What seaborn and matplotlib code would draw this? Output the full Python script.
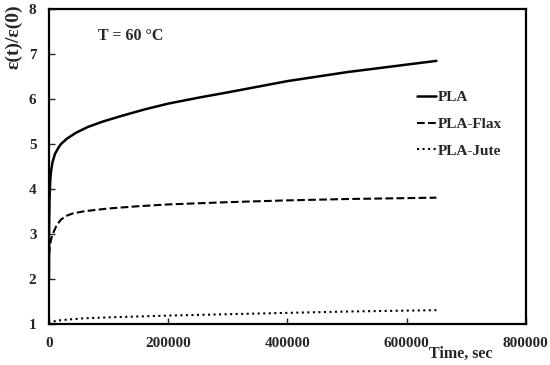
import matplotlib
matplotlib.use('Agg')
import matplotlib.pyplot as plt
import seaborn as sns
import pandas as pd
import numpy as np

# values
time_pla = [0, 300, 1000, 2000, 3500, 6000, 10000, 15000, 20000, 30000, 45000,
            65000, 90000, 120000, 160000, 200000, 250000, 300000, 400000,
            500000, 650000]
pla = [2.0, 3.2, 3.8, 4.15, 4.4, 4.6, 4.78, 4.9, 5.0, 5.12, 5.25,
       5.38, 5.5, 5.62, 5.77, 5.9, 6.03, 6.15, 6.4, 6.6, 6.85]

time_flax = [0, 300, 1500, 4000, 8000, 13000, 20000, 28000, 40000, 60000, 100000,
             150000, 200000, 300000, 400000, 500000, 650000]
flax = [2.3, 2.55, 2.75, 2.9, 3.05, 3.2, 3.32, 3.4, 3.46, 3.51, 3.57,
        3.62, 3.66, 3.71, 3.75, 3.78, 3.81]

time_jute = [0, 5000, 15000, 30000, 60000, 100000, 200000, 300000, 400000, 500000, 650000]
jute = [1.0, 1.05, 1.08, 1.1, 1.13, 1.15, 1.19, 1.22, 1.25, 1.28, 1.31]

series_names = ['PLA', 'PLA-Flax', 'PLA-Jute']
series_styles = ['-', '--', ':']

df = pd.concat([
    pd.DataFrame({'time': time_pla, 'ratio': pla, 'series': 'PLA'}),
    pd.DataFrame({'time': time_flax, 'ratio': flax, 'series': 'PLA-Flax'}),
    pd.DataFrame({'time': time_jute, 'ratio': jute, 'series': 'PLA-Jute'}),
])

sns.set_style('ticks')
plt.rcParams['font.family'] = ['Liberation Serif', 'DejaVu Serif']
plt.rcParams['font.weight'] = 'bold'

fig = plt.figure(figsize=(5.5, 3.65), dpi=100)
ax = fig.add_axes([0.089, 0.112, 0.867, 0.863])

for name, ls in zip(series_names, series_styles):
    sub = df[df['series'] == name]
    sns.lineplot(data=sub, x='time', y='ratio', ax=ax, color='black',
                 linestyle=ls, linewidth=1.8 if ls == '-' else 1.5, label=name)

ax.set_xlim(0, 800000)
ax.set_ylim(1, 8)
ax.set_xticks([0, 200000, 400000, 600000, 800000])
ax.set_xticklabels(['0', '200000', '400000', '600000', '800000'])
ax.set_yticks(range(1, 9))
ax.tick_params(direction='in', length=4, width=1, labelsize=11, pad=9)
for lab in ax.get_xticklabels() + ax.get_yticklabels():
    lab.set_fontweight('bold')
for sp in ax.spines.values():
    sp.set_visible(True)
    sp.set_linewidth(1.6)
    sp.set_color('black')

ax.set_xlabel('')
ax.set_ylabel('')
fig.text(0.026, 0.899, 'ε(t)/ε(0)', rotation=90, ha='center', va='center',
         fontsize=14, fontweight='bold')
fig.text(0.895, 0.008, 'Time, sec', ha='right', va='bottom',
         fontsize=11.5, fontweight='bold')
ax.text(0.103, 0.915, 'T = 60 °C', transform=ax.transAxes, fontsize=11.5,
        fontweight='bold', va='center')

leg = ax.legend(loc='upper left', bbox_to_anchor=(0.742, 0.785), frameon=False,
                handlelength=1.3, handletextpad=0.1, labelspacing=0.85,
                prop={'weight': 'bold', 'size': 11})

fig.savefig('out.png', dpi=100)
